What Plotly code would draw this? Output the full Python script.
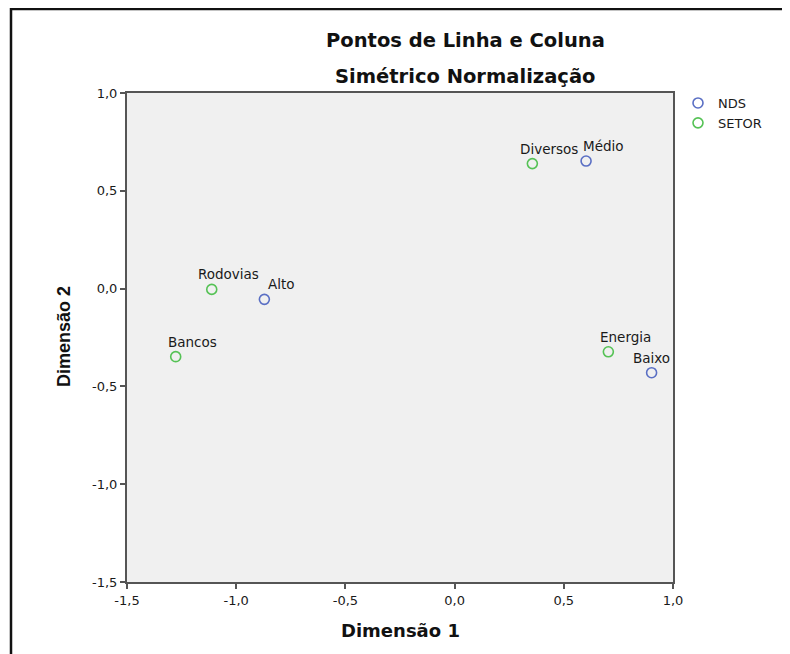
import plotly.graph_objects as go

# ---- data ----
nds_labels = ["Alto", "Médio", "Baixo"]
nds_dim1 = [-0.871, 0.602, 0.902]
nds_dim2 = [-0.055, 0.652, -0.430]

setor_labels = ["Rodovias", "Bancos", "Diversos", "Energia"]
setor_dim1 = [-1.112, -1.277, 0.356, 0.704]
setor_dim2 = [-0.004, -0.348, 0.639, -0.323]

tick_vals = [-1.5, -1.0, -0.5, 0.0, 0.5, 1.0]
tick_text = ["-1,5", "-1,0", "-0,5", "0,0", "0,5", "1,0"]

title_line1 = "Pontos de Linha e Coluna"
title_line2 = "Simétrico Normalização"
x_title = "Dimensão 1"
y_title = "Dimensão 2"

# ---- styles ----
OFF = 8                                  # page body margin
W, H = 782, 646
L, R, T, B = 127, 673, 93, 582          # plot-area box in page pixels
BLUE = "#5a6fc4"
GREEN = "#55c255"
AXIS = "#555555"
FONT = "DejaVu Sans, Arial, sans-serif"
BOLD = "DejaVu Sans, Arial, sans-serif"
label_xshift = {"Baixo": 0}             # label kept inside plot area
DEFAULT_XSHIFT = 17


def px_x(p):
    return (p - L) / (R - L)


def px_y(p):
    return (B - p) / (B - T)


fig = go.Figure()
fig.add_trace(go.Scatter(
    x=nds_dim1, y=nds_dim2, mode="markers", name="NDS",
    marker=dict(symbol="circle-open", size=10, color=BLUE, line=dict(width=1.6, color=BLUE)),
    hovertext=nds_labels,
))
fig.add_trace(go.Scatter(
    x=setor_dim1, y=setor_dim2, mode="markers", name="SETOR",
    marker=dict(symbol="circle-open", size=10, color=GREEN, line=dict(width=1.6, color=GREEN)),
    hovertext=setor_labels,
))

annotations = []
for labels, xs, ys in ((nds_labels, nds_dim1, nds_dim2), (setor_labels, setor_dim1, setor_dim2)):
    for lab, xv, yv in zip(labels, xs, ys):
        annotations.append(dict(
            x=xv, y=yv, xref="x", yref="y", text=lab, showarrow=False,
            xshift=label_xshift.get(lab, DEFAULT_XSHIFT), yshift=15,
            font=dict(family=FONT, size=13.5, color="#1a1a1a"),
        ))

annotations += [
    dict(x=px_x(465), y=px_y(40), xref="paper", yref="paper", text="<b>%s</b>" % title_line1,
         showarrow=False, xanchor="center", yanchor="middle",
         font=dict(family=BOLD, size=19.5, color="#111111")),
    dict(x=px_x(465), y=px_y(76), xref="paper", yref="paper", text="<b>%s</b>" % title_line2,
         showarrow=False, xanchor="center", yanchor="middle",
         font=dict(family=BOLD, size=19.5, color="#111111")),
    dict(x=0.5, y=px_y(630), xref="paper", yref="paper", text="<b>%s</b>" % x_title,
         showarrow=False, xanchor="center", yanchor="middle",
         font=dict(family=BOLD, size=18, color="#111111")),
    dict(x=px_x(64), y=px_y(337), xref="paper", yref="paper", text="<b>%s</b>" % y_title,
         showarrow=False, xanchor="center", yanchor="middle", textangle=-90,
         font=dict(family="Liberation Sans, Arial, sans-serif", size=18, color="#111111")),
]

shapes = [
    # outer frame (top and left edges visible)
    dict(type="line", xref="paper", yref="paper", x0=px_x(11), x1=px_x(800),
         y0=px_y(9), y1=px_y(9), line=dict(color="#111111", width=2.5)),
    dict(type="line", xref="paper", yref="paper", x0=px_x(11), x1=px_x(11),
         y0=px_y(8), y1=px_y(670), line=dict(color="#111111", width=2.5)),
]

axis_common = dict(
    range=[-1.5, 1.0], tickvals=tick_vals, ticktext=tick_text,
    showgrid=False, zeroline=False, showline=True, linecolor=AXIS, linewidth=2,
    mirror=True, ticks="outside", ticklen=5, tickwidth=1.5, tickcolor=AXIS,
    tickfont=dict(family=FONT, size=13, color="#1a1a1a"),
)

fig.update_layout(
    width=W, height=H,
    margin=dict(l=L - OFF, r=W - (R - OFF), t=T - OFF, b=H - (B - OFF), pad=0),
    paper_bgcolor="white", plot_bgcolor="#f0f0f0",
    xaxis=dict(**axis_common),
    yaxis=dict(**axis_common),
    showlegend=True,
    legend=dict(
        x=px_x(678), y=px_y(88), xanchor="left", yanchor="top",
        font=dict(family=FONT, size=13, color="#1a1a1a"),
        bgcolor="rgba(0,0,0,0)", borderwidth=0, tracegroupgap=0,
        itemwidth=30,
    ),
    annotations=annotations,
    shapes=shapes,
)

fig.write_html("out.html")
